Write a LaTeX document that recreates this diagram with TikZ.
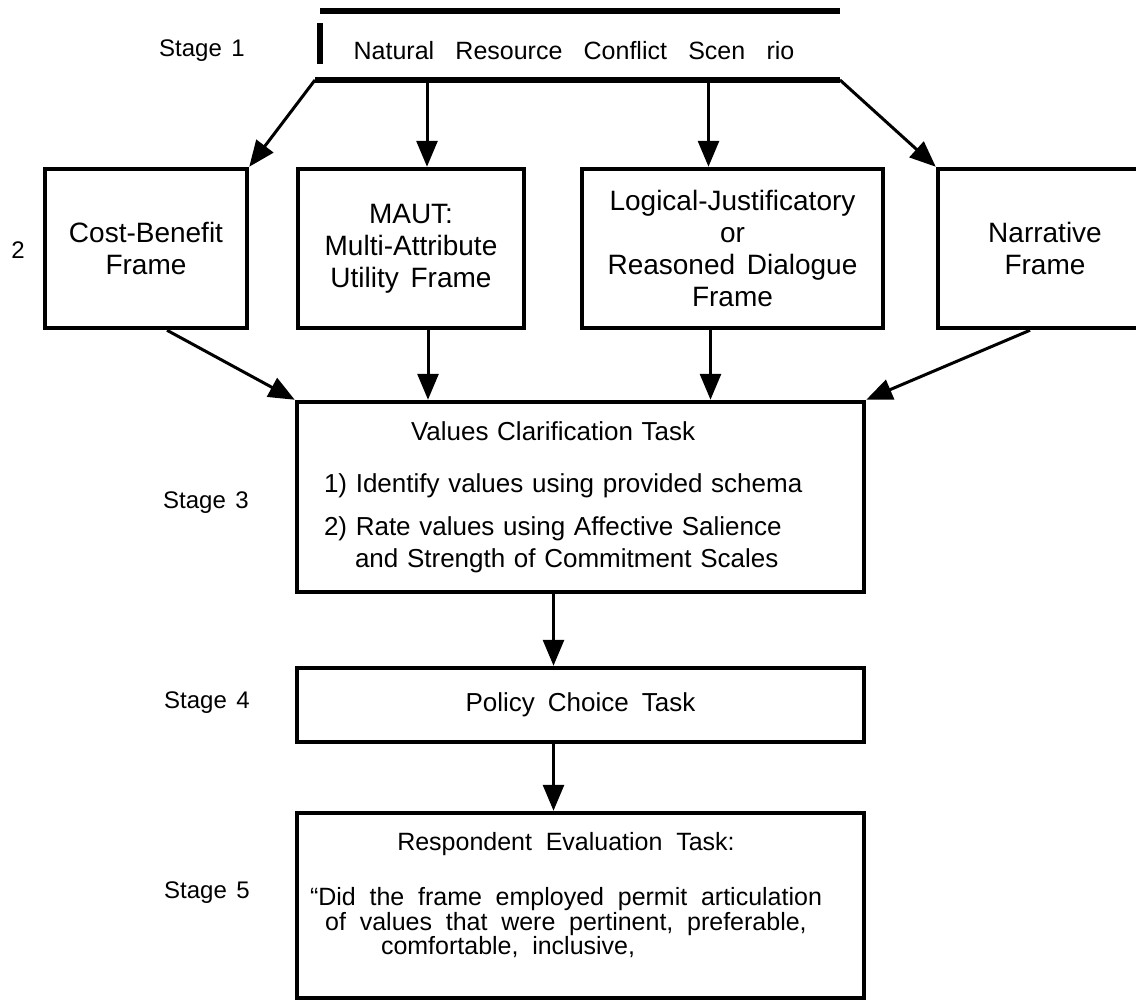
\documentclass[tikz,border=0pt]{standalone}
\usepackage{fontspec}
\setmainfont{Liberation Sans}
\usetikzlibrary{arrows.meta}
\newcommand\wordgap[1]{\spaceskip=#1\relax}
\tikzset{
  framebox/.style={draw,line width=4.5pt,minimum height=159pt,align=center,inner sep=0pt,font=\fontsize{28}{32}\selectfont\wordgap{0.42em}},
  taskbox/.style={draw,line width=4.5pt,minimum width=567pt,inner sep=0pt},
  stagelbl/.style={font=\fontsize{24}{28}\selectfont\wordgap{0.4em}},
  conn/.style={line width=3pt,-{Triangle[length=26pt,width=21pt]}},
  bar/.style={line width=5.5pt}
}
\begin{document}
\begin{tikzpicture}[x=1pt,y=-1pt]
\useasboundingbox (0,0) rectangle (1136,1001);

% Stage 1: scenario between two bars
\node[stagelbl] (st1) at (202,51) {Stage 1};
\node[font=\fontsize{25}{29}\selectfont\wordgap{0.85em}] (scen) at (574,51) {Natural Resource Conflict Scen rio};
\coordinate (barSW) at (315,80);
\coordinate (barSE) at (840,80);
\draw[bar] (320,11) -- (840,11);
\draw[bar] (barSW) -- (barSE);
\draw[line width=6pt] (320,23) -- (320,64);

% Stage 2: the four frames
\node[stagelbl] (st2) at (18,250) {2};
\node[framebox,minimum width=202pt] (cb) at (146,248.5) {Cost-Benefit\\Frame};
\node[framebox,minimum width=226pt] (maut) at (411,248.5) {MAUT:\\Multi-Attribute\\Utility Frame};
\node[framebox,minimum width=301pt] (logic) at (732.5,248.5) {Logical-Justificatory\\or\\Reasoned Dialogue\\Frame};
\node[framebox,minimum width=214pt] (narr) at (1045,248.5) {Narrative\\Frame};

% Stage 3
\node[stagelbl] (st3) at (206,503) {Stage 3};
\node[taskbox,minimum height=190pt,text width=513pt,align=left,font=\fontsize{26}{32}\selectfont\wordgap{0.45em}] (val) at (580.5,497) {%
\hspace*{87pt}Values Clarification Task\\[20pt]
1) Identify values using provided schema\\[11pt]
2) Rate values using Affective Salience\\
\hspace*{31pt}and Strength of Commitment Scales};

% Stage 4
\node[stagelbl] (st4) at (207,703) {Stage 4};
\node[taskbox,minimum height=74pt,font=\fontsize{26}{30}\selectfont\wordgap{0.5em}] (pol) at (580.5,705) {Policy Choice Task};

% Stage 5
\node[stagelbl] (st5) at (207,893) {Stage 5};
\node[taskbox,minimum height=185pt] (resp) at (580.5,905.5) {};
\node[align=center,font=\fontsize{25}{21}\selectfont\wordgap{0.55em}] (resptxt) at (566,895) {Respondent Evaluation Task:\\[31pt]
“Did the frame employed permit articulation\\
of values that were pertinent, preferable,\\
\makebox[370pt][l]{comfortable, inclusive,}};

% Arrows
\draw[conn] (barSW) -- (cb.north east);
\draw[conn] ([xshift=16pt]maut.north |- barSW) -- ([xshift=16pt]maut.north);
\draw[conn] ([xshift=-24pt]logic.north |- barSW) -- ([xshift=-24pt]logic.north);
\draw[conn] (barSE) -- (narr.north west);

\draw[conn] ([xshift=21pt]cb.south) -- (val.north west);
\draw[conn] ([xshift=17pt]maut.south) -- ([xshift=17pt]maut.south |- val.north);
\draw[conn] ([xshift=-22pt]logic.south) -- ([xshift=-22pt]logic.south |- val.north);
\draw[conn] ([xshift=-15pt]narr.south) -- (val.north east);

\draw[conn] ([xshift=-27pt]val.south) -- ([xshift=-27pt]val.south |- pol.north);
\draw[conn] ([xshift=-27pt]pol.south) -- ([xshift=-27pt]pol.south |- resp.north);
\end{tikzpicture}
\end{document}
